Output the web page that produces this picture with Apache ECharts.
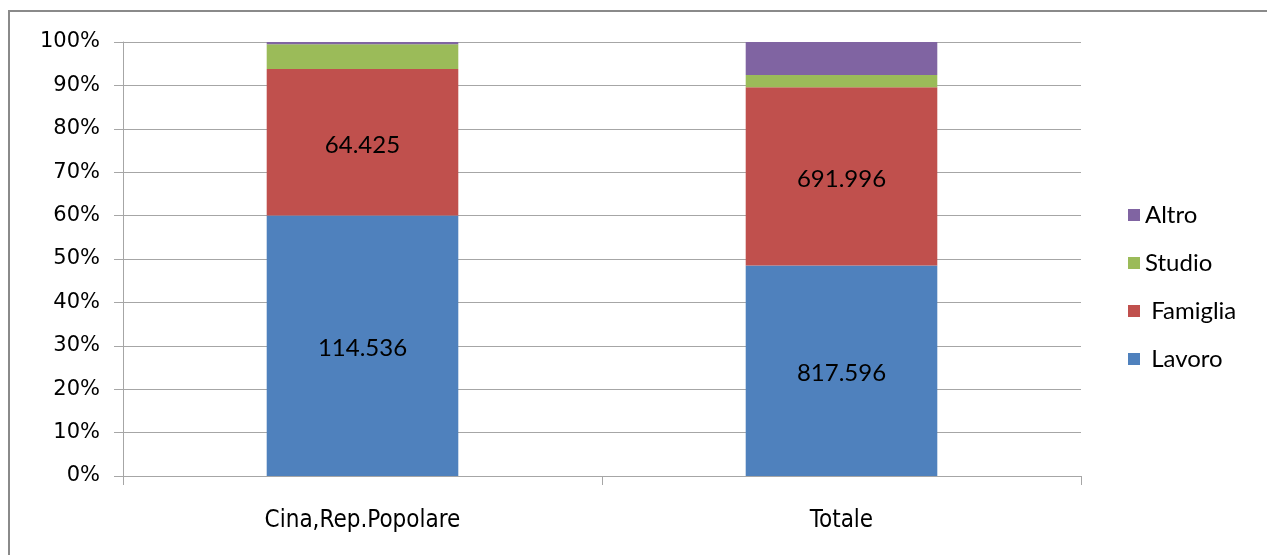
<!DOCTYPE html>
<html>
<head>
<meta charset="utf-8">
<script src="https://cdn.jsdelivr.net/npm/echarts@6/dist/echarts.min.js"></script>
<style>
html,body{margin:0;padding:0;background:#fff;}
#c{width:1267px;height:555px;}
</style>
</head>
<body>
<div id="c"></div>
<script>
const categories = ['Cina,Rep.Popolare', 'Totale'];
const lavoro   = [114536, 817596];
const famiglia = [64425, 691996];
const studio   = [10900, 48000];
const altro    = [950, 128000];
const yTicks = [0, 10, 20, 30, 40, 50, 60, 70, 80, 90, 100];
const labelledSeries = ['Lavoro', 'Famiglia'];

const totals = categories.map((_, i) => lavoro[i] + famiglia[i] + studio[i] + altro[i]);
const pct = arr => arr.map((v, i) => ({ value: v / totals[i] * 100, raw: v }));
const fmt = v => String(v).replace(/\B(?=(\d{3})+(?!\d))/g, '.');

const colors = { Lavoro: '#4F81BD', Famiglia: '#C0504D', Studio: '#9BBB59', Altro: '#8064A2' };
const raw = { Lavoro: lavoro, Famiglia: famiglia, Studio: studio, Altro: altro };

const series = ['Lavoro', 'Famiglia', 'Studio', 'Altro'].map(name => ({
  name,
  type: 'bar',
  stack: 'tot',
  barWidth: '40%',
  data: pct(raw[name]),
  itemStyle: { color: colors[name] },
  label: {
    show: labelledSeries.includes(name),
    position: 'inside',
    offset: [0, 3],
    color: '#000',
    fontFamily: 'Lato',
    fontSize: 24,
    formatter: p => fmt(p.data.raw)
  }
}));

const chart = echarts.init(document.getElementById('c'), null, { renderer: 'canvas' });
chart.setOption({
  animation: false,
  backgroundColor: '#fff',
  graphic: [{
    type: 'rect',
    shape: { x: 9, y: 11, width: 1300, height: 600 },
    style: { fill: 'none', stroke: '#8a8a8a', lineWidth: 2 },
    silent: true
  }],
  grid: { left: 123, top: 42, right: 186, bottom: 79, containLabel: false },
  legend: {
    orient: 'vertical',
    left: 1123,
    top: 198,
    data: ['Altro', 'Studio', 'Famiglia', 'Lavoro'],
    itemWidth: 12,
    itemHeight: 12,
    itemGap: 24,
    icon: 'rect',
    formatter: n => (n === 'Famiglia' || n === 'Lavoro') ? ' ' + n : n,
    textStyle: { fontFamily: 'Lato', fontSize: 24, color: '#000' }
  },
  xAxis: {
    type: 'category',
    data: categories,
    axisLine: { lineStyle: { color: '#a6a6a6', width: 1 } },
    axisTick: { show: true, length: 9, lineStyle: { color: '#a6a6a6' } },
    axisLabel: { fontFamily: 'DejaVu Sans Condensed', fontSize: 24, color: '#000', margin: 33 }
  },
  yAxis: {
    type: 'value',
    min: 0,
    max: 100,
    interval: 10,
    axisLine: { show: true, lineStyle: { color: '#a6a6a6' } },
    axisTick: { show: true, inside: false, length: 9, lineStyle: { color: '#a6a6a6' } },
    splitLine: { lineStyle: { color: '#a6a6a6', width: 1 } },
    axisLabel: {
      fontFamily: 'DejaVu Sans',
      fontSize: 21,
      color: '#000',
      margin: 23,
      formatter: v => yTicks.includes(v) ? v + '%' : ''
    }
  },
  series
});
</script>
</body>
</html>
